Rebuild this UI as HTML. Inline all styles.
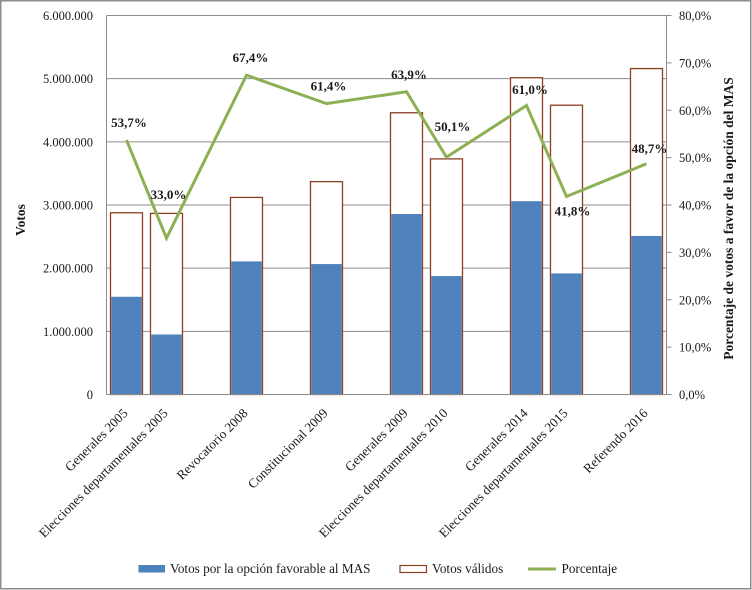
<!DOCTYPE html>
<html lang="es">
<head>
<meta charset="utf-8">
<title>Votos por la opción favorable al MAS</title>
<style>
html,body{margin:0;padding:0;background:#fff}
body{width:752px;height:590px;overflow:hidden}
svg{display:block}
text{font-family:"Liberation Serif",serif;fill:#1a1a1a}
</style>
</head>
<body>
<svg id="chart" xmlns="http://www.w3.org/2000/svg" width="752" height="590" viewBox="0 0 752 590">
  <rect x="0.75" y="0.75" width="750" height="588" fill="#fff" stroke="#8c8c8c" stroke-width="1.5"/>
  <g id="grid"></g>
  <g id="bars"></g>
  <g id="axes"></g>
  <g id="line"></g>
  <g id="labels"></g>
  <text transform="translate(25,220) rotate(-90)" text-anchor="middle" font-size="13.5" font-weight="bold">Votos</text>
  <text transform="translate(733,218.5) rotate(-90)" text-anchor="middle" font-size="13.5" font-weight="bold">Porcentaje de votos a favor de la opción del MAS</text>
  <g>
    <rect x="138.5" y="565" width="26.5" height="7.5" fill="#4f81bd"/>
    <text x="170" y="573" font-size="13.2">Votos por la opción favorable al MAS</text>
    <rect x="400" y="565.5" width="26.5" height="7" fill="#fff" stroke="#8b3f20" stroke-width="1.2"/>
    <text x="432" y="573" font-size="13.2">Votos válidos</text>
    <line x1="528" x2="556" y1="569" y2="569" stroke="#8eb054" stroke-width="3"/>
    <text x="561.5" y="573" font-size="13.2">Porcentaje</text>
  </g>
</svg>
<script>
const categories = ["Generales 2005", "Elecciones departamentales 2005", "", "Revocatorio 2008", "", "Constitucional 2009", "", "Generales 2009", "Elecciones departamentales 2010", "", "Generales 2014", "Elecciones departamentales 2015", "", "Referendo 2016"];
const favorableVotes = [1547000, 950000, null, 2107000, null, 2065000, null, 2857000, 1875000, null, 3060000, 1917000, null, 2510000];
const validVotes = [2877000, 2867000, null, 3120000, null, 3370000, null, 4460000, 3730000, null, 5015000, 4580000, null, 5160000];
const percentages = [53.7, 33.0, null, 67.4, null, 61.4, null, 63.9, 50.1, null, 61.0, 41.8, null, 48.7];
const voteTicks = [0, 1000000, 2000000, 3000000, 4000000, 5000000, 6000000];
const percentTicks = [0, 10, 20, 30, 40, 50, 60, 70, 80];
const labelNudgeX = [2.5, 2, 0, 4, 0, 2, 0, 2.5, 6, 0, 3.5, 6, 0, 3];
const labelNudgeY = [-13, -39, 0, -13, 0, -13, 0, -13, -26, 0, -11.5, 19, 0, -11];

const NS = "http://www.w3.org/2000/svg";
const plot = {left: 106.5, right: 666.5, top: 15.5, bottom: 394.5};
const voteMax = 6000000;
const percentMax = 80;
const slot = (plot.right - plot.left) / categories.length;
const barWidth = 32;
const xAt = i => plot.left + slot * (i + 0.5);
const yVotes = v => plot.bottom - (v / voteMax) * (plot.bottom - plot.top);
const yPercent = p => plot.bottom - (p / percentMax) * (plot.bottom - plot.top);
const fmtVotes = v => String(v).replace(/\B(?=(\d{3})+$)/g, ".");
const fmtPercent = p => p.toFixed(1).replace(".", ",") + "%";

function make(parent, tag, attrs, content) {
  const el = document.createElementNS(NS, tag);
  for (const k in attrs) el.setAttribute(k, attrs[k]);
  if (content !== undefined) el.textContent = content;
  document.getElementById(parent).appendChild(el);
  return el;
}

voteTicks.forEach(v => {
  if (v !== 0) {
    const g = make("grid", "line", {x1: plot.left, x2: plot.right, y1: yVotes(v), y2: yVotes(v), stroke: "#8c8c8c", "stroke-width": 1});
    
    
  }
  const t = make("axes", "text", {x: 93, y: yVotes(v) + 4.5, "text-anchor": "end", "font-size": 12.5}, fmtVotes(v));
  
  
});

categories.forEach((c, i) => {
  if (validVotes[i] !== null) {
    const r = make("bars", "rect", {x: xAt(i) - barWidth / 2, y: yVotes(validVotes[i]), width: barWidth, height: plot.bottom - yVotes(validVotes[i]), fill: "#fff", stroke: "#8b3f20", "stroke-width": 1.3});
    
    
  }
  if (favorableVotes[i] !== null) {
    const b = make("bars", "rect", {x: xAt(i) - barWidth / 2 + 0.7, y: yVotes(favorableVotes[i]), width: barWidth - 1.4, height: plot.bottom - yVotes(favorableVotes[i]), fill: "#4f81bd"});
    
    
  }
  if (c) {
    const l = make("axes", "text", {transform: "translate(" + (xAt(i) + 2) + ",414) rotate(-45)", "text-anchor": "end", "font-size": 13.2}, c);
    
    
  }
});

const leftAxis = make("axes", "line", {x1: plot.left, x2: plot.left, y1: plot.top, y2: plot.bottom, stroke: "#8c8c8c", "stroke-width": 1});


const rightAxis = make("axes", "line", {x1: plot.right, x2: plot.right, y1: plot.top, y2: plot.bottom, stroke: "#8c8c8c", "stroke-width": 1});


const baseAxis = make("axes", "line", {x1: plot.left, x2: plot.right, y1: plot.bottom, y2: plot.bottom, stroke: "#8c8c8c", "stroke-width": 1});



percentTicks.forEach(p => {
  const m = make("axes", "line", {x1: plot.right, x2: plot.right + 5, y1: yPercent(p), y2: yPercent(p), stroke: "#8c8c8c", "stroke-width": 1});
  
  
  const t = make("axes", "text", {x: 679, y: yPercent(p) + 4.5, "font-size": 12.5}, fmtPercent(p));
  
  
});

const points = [];
percentages.forEach((p, i) => {
  if (p === null) return;
  points.push(xAt(i) + "," + yPercent(p));
  const t = make("labels", "text", {x: xAt(i) + labelNudgeX[i], y: yPercent(p) + labelNudgeY[i], "text-anchor": "middle", "font-size": 13, "font-weight": "bold"}, fmtPercent(p));
  
  
});
const path = make("line", "polyline", {points: points.join(" "), fill: "none", stroke: "#8eb054", "stroke-width": 3, "stroke-linejoin": "miter"});


</script>
</body>
</html>
